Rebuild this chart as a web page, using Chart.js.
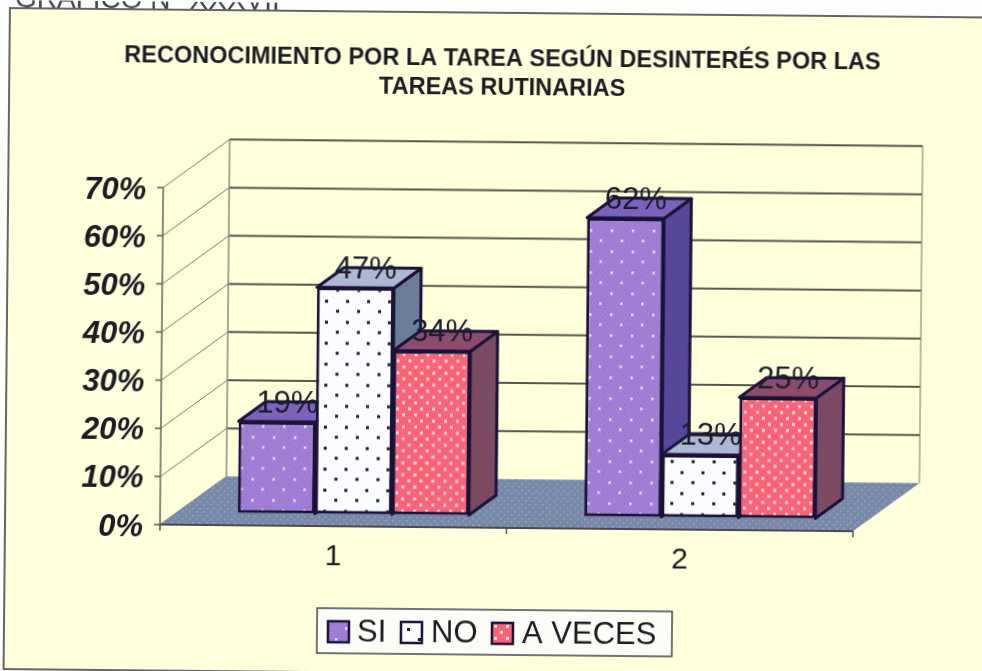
<!DOCTYPE html>
<html>
<head>
<meta charset="utf-8">
<title>Reconocimiento por la tarea</title>
<script src="https://cdn.jsdelivr.net/npm/chart.js@4"></script>
<style>
  html, body { margin: 0; padding: 0; width: 982px; height: 671px; overflow: hidden; background: #fdfdfb; }
  /* the source is a slightly crooked scan */
  #wrap { width: 1006px; height: 690px; transform-origin: 0 0; transform: rotate(0.55deg); filter: blur(0.5px); }
</style>
</head>
<body>
<div id="wrap"><canvas id="chart" width="1006" height="690"></canvas></div>
<script>
var categories = ["1", "2"];
var seriesNames = ["SI", "NO", "A VECES"];
var si = [19, 62];
var no = [47, 13];
var aVeces = [34, 25];
var yMax = 70;
var yStep = 10;
var titleLines = ["RECONOCIMIENTO POR LA TAREA SEGÚN DESINTERÉS POR LAS", "TAREAS RUTINARIAS"];
var header = "GRÁFICO N° XXXVII";

var frontColors = ["#a27fd6", "#fbfcff", "#fb6379"];
var dotColors = ["#efe6fb", "#1c1c24", "#ffd8dc"];
var sideColors = ["#57479a", "#6a7c98", "#7c4a62"];
var topColors = ["#7c62bc", "#aeb8d4", "#8c4c70"];
var edge = "#1b1238";

// projection of the 3D box: wall depth, and where the bars sit inside it
var wallDx = 66, wallDy = -48.7;
var barDx = 20, barDy = -12.5;
var sideDx = 27, sideDy = -20;

// legend spots along the box, x of marker and x of text
var legendMarkX = [334, 407, 498];
var legendTextX = [363, 437, 528];

function dotted(bg, dot, w, h, spots, size, speck) {
  var c = document.createElement("canvas");
  c.width = w;
  c.height = h;
  var g = c.getContext("2d");
  g.fillStyle = bg;
  g.fillRect(0, 0, w, h);
  if (speck) {
    g.fillStyle = speck;
    for (var y = 0; y < h; y += 3) {
      for (var x = (y % 2) * 2; x < w; x += 4) g.fillRect(x, y, 1, 1);
    }
  }
  g.fillStyle = dot;
  spots.forEach(function (p) { g.fillRect(p[0], p[1], size, size); });
  return g.createPattern(c, "repeat");
}

var patterns = [
  dotted(frontColors[0], dotColors[0], 21, 21, [[5, 5], [15, 15]], 2.5, "#8f6ec8"),
  dotted(frontColors[1], dotColors[1], 21, 21, [[4, 4], [14, 15]], 3),
  dotted(frontColors[2], dotColors[2], 12, 12, [[2, 2], [8, 8]], 3)
];
var floorPattern = dotted("#7888a8", "#98a6bf", 7, 7, [[1, 2], [5, 5]], 1.5);

function line(ctx, x1, y1, x2, y2, color, w) {
  ctx.beginPath();
  ctx.moveTo(x1, y1);
  ctx.lineTo(x2, y2);
  ctx.strokeStyle = color;
  ctx.lineWidth = w;
  ctx.stroke();
}

function poly(ctx, pts, fill) {
  ctx.beginPath();
  pts.forEach(function (p, i) {
    if (i) ctx.lineTo(p[0], p[1]); else ctx.moveTo(p[0], p[1]);
  });
  ctx.closePath();
  ctx.fillStyle = fill;
  ctx.fill();
  ctx.strokeStyle = edge;
  ctx.lineJoin = "round";
  ctx.lineWidth = 3;
  ctx.stroke();
}

var box3d = {
  id: "box3d",
  beforeDraw: function (chart) {
    var ctx = chart.ctx;
    var xs = chart.scales.x, ys = chart.scales.y;
    var zero = ys.getPixelForValue(0), top = ys.getPixelForValue(yMax);
    ctx.save();

    // page header, cut by the scan, and the yellow chart frame
    ctx.fillStyle = "#44444c";
    ctx.font = "28px 'Liberation Sans'";
    ctx.textAlign = "left";
    ctx.textBaseline = "alphabetic";
    ctx.fillText(header, 15, 7);
    ctx.fillStyle = "#ffffdc";
    ctx.fillRect(10, 8, 1100, 661);
    ctx.strokeStyle = "#66666a";
    ctx.lineWidth = 2;
    ctx.strokeRect(10, 8, 1100, 661);

    // walls
    for (var v = 0; v <= yMax; v += yStep) {
      var y = ys.getPixelForValue(v);
      line(ctx, xs.left, y, xs.left + wallDx, y + wallDy, "#77776c", 1);
      if (v > 0) line(ctx, xs.left + wallDx, y + wallDy, xs.right + wallDx, y + wallDy, "#55554c", 2);
      line(ctx, xs.left - 6, y, xs.left, y, "#55554c", 1.5);
    }
    line(ctx, xs.left, top, xs.left, zero, "#66665c", 1.5);
    line(ctx, xs.left + wallDx, top + wallDy, xs.left + wallDx, zero + wallDy, "#8a8a80", 1.5);
    line(ctx, xs.right + wallDx, top + wallDy, xs.right + wallDx, zero + wallDy, "#77776c", 1);

    // floor
    ctx.beginPath();
    ctx.moveTo(xs.left, zero);
    ctx.lineTo(xs.right, zero);
    ctx.lineTo(xs.right + wallDx, zero + wallDy);
    ctx.lineTo(xs.left + wallDx, zero + wallDy);
    ctx.closePath();
    ctx.fillStyle = floorPattern;
    ctx.fill();
    line(ctx, xs.left, zero, xs.right, zero, "#4a4a50", 2);
    [xs.left, (xs.left + xs.right) / 2, xs.right].forEach(function (x) {
      line(ctx, x, zero, x, zero + 6, "#55554c", 1.5);
    });

    // legend: the built-in one forces a wide gap between marker and text
    ctx.fillStyle = "#fdfdf8";
    ctx.fillRect(323, 605, 355, 45);
    ctx.strokeStyle = "#444450";
    ctx.lineWidth = 1.5;
    ctx.strokeRect(323, 605, 355, 45);
    ctx.font = "31px 'Liberation Sans'";
    ctx.textBaseline = "middle";
    chart.data.datasets.forEach(function (ds, d) {
      ctx.fillStyle = ds.backgroundColor;
      ctx.fillRect(legendMarkX[d], 618, 21, 21);
      ctx.strokeStyle = edge;
      ctx.lineWidth = 2.5;
      ctx.strokeRect(legendMarkX[d], 618, 21, 21);
      ctx.fillStyle = "#1c1c24";
      ctx.fillText(ds.label, legendTextX[d], 629);
    });
    ctx.restore();
  },
  // bars drawn by hand in series order, so later bars cover earlier sides
  beforeDatasetsDraw: function (chart) {
    var ctx = chart.ctx;
    ctx.save();
    ctx.translate(barDx, barDy);
    chart.data.datasets.forEach(function (ds, d) {
      chart.getDatasetMeta(d).data.forEach(function (el) {
        var r = el.x + el.width / 2, l = el.x - el.width / 2;
        poly(ctx, [[r, el.y], [r + sideDx, el.y + sideDy], [r + sideDx, el.base + sideDy], [r, el.base]], sideColors[d]);
        poly(ctx, [[l, el.y], [l + sideDx, el.y + sideDy], [r + sideDx, el.y + sideDy], [r, el.y]], topColors[d]);
        el.draw(ctx);
      });
    });
    ctx.restore();
    return false;
  },
  afterDraw: function (chart) {
    var ctx = chart.ctx;
    ctx.save();
    ctx.fillStyle = "#1c1c2c";
    ctx.font = "31px 'Liberation Sans'";
    ctx.textAlign = "center";
    ctx.textBaseline = "middle";
    chart.data.datasets.forEach(function (ds, d) {
      chart.getDatasetMeta(d).data.forEach(function (el, i) {
        ctx.fillText(ds.data[i] + "%", el.x + barDx + 10, el.y + barDy - 18);
      });
    });
    ctx.restore();
  }
};

function bars(i, values) {
  return {
    label: seriesNames[i],
    data: values,
    backgroundColor: patterns[i],
    borderColor: edge,
    borderWidth: 3,
    borderSkipped: false,
    categoryPercentage: 0.667,
    barPercentage: 1,
    yAxisID: "y"
  };
}

new Chart(document.getElementById("chart"), {
  type: "bar",
  plugins: [box3d],
  data: {
    labels: categories,
    datasets: [bars(0, si), bars(1, no), bars(2, aVeces)]
  },
  options: {
    responsive: false,
    animation: false,
    plugins: {
      tooltip: { enabled: false },
      legend: { display: false },
      title: {
        display: true,
        text: titleLines,
        color: "#1c1c24",
        font: { family: "'Liberation Sans'", size: 23.5, weight: "bold", lineHeight: 1.234 },
        padding: { top: 40, bottom: 88 }
      }
    },
    scales: {
      x: {
        grid: { display: false },
        border: { display: false },
        ticks: { color: "#1c1c24", padding: 5, font: { family: "'Liberation Sans'", size: 30 } },
        afterFit: function (s) { s.height = 167; }
      },
      y: {
        min: 0,
        max: yMax,
        grid: { display: false },
        border: { display: false },
        ticks: {
          stepSize: yStep,
          color: "#1c1c24",
          padding: 9,
          labelOffset: 3,
          font: { family: "'Liberation Sans'", size: 31, weight: "bold", style: "italic" },
          callback: function (v) { return v + "%"; }
        },
        afterFit: function (s) { s.width = 165; }
      },
      // empty axis only keeps the plot clear of the right side of the frame
      pad: {
        position: "right",
        min: 0,
        max: 1,
        grid: { display: false },
        border: { display: false },
        ticks: { display: false },
        afterFit: function (s) { s.width = 148; }
      }
    }
  }
});
</script>
</body>
</html>
